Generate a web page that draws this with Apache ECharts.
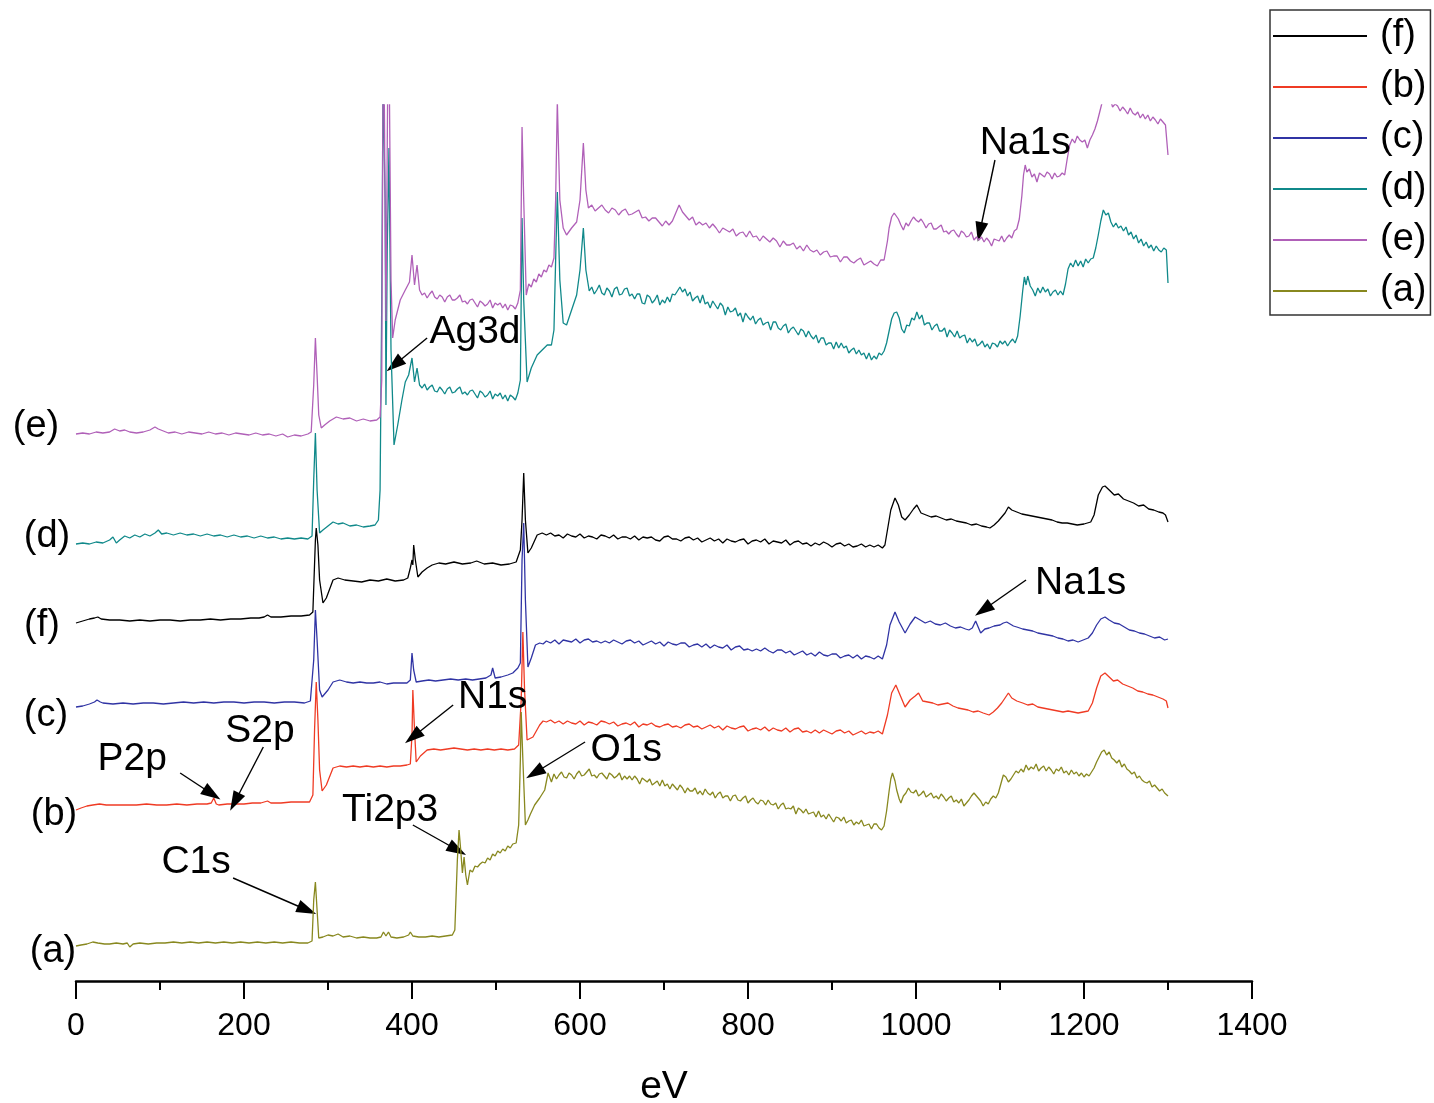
<!doctype html>
<html>
<head>
  <meta charset="UTF-8" />
  <title>XPS survey</title>
  <script src="https://cdn.jsdelivr.net/npm/echarts@6/dist/echarts.min.js"></script>
  <style>
    html, body { margin: 0; padding: 0; background: #fff; }
    #chart { width: 1434px; height: 1103px; }
  </style>
</head>
<body>
  <div id="chart"></div>
  <script>
    // binding energy (eV) vs. offset intensity (a.u.)
    const serF = [[0,358],[8,360],[16,362],[22,363],[26,364],[30,362],[40,361],[52,361],[64,360],[76,361],[88,360],[100,361],[112,361],[124,360],[136,361],[148,361],[160,362],[172,361],[184,362],[196,362],[208,363],[218,363],[224,364],[228,366],[232,364],[244,364],[256,365],[268,365],[278,366],[282,369],[285,441],[286,453],[288,436],[290,401],[294,378],[298,383],[306,401],[312,403],[320,401],[330,400],[340,399],[350,401],[360,400],[370,402],[380,400],[390,401],[395,403],[398,413],[400,421],[401,416],[402,436],[404,421],[407,404],[412,409],[418,413],[424,416],[432,418],[440,417],[450,419],[460,417],[470,418],[477,420],[486,417],[496,418],[506,416],[516,417],[524,419],[529,431],[531,461],[533,508],[535,461],[538,428],[542,433],[549,446],[555,448],
      [560,446],[565,448],[570,445],[575,446],[580,443],[585,447],[590,445],[595,444],[600,447],[605,443],[610,445],[615,444],[620,442],[625,446],[630,445],[635,443],[640,446],[645,442],[650,444],[655,444],[660,442],[665,445],[670,441],[675,444],[680,443],[685,444],[690,441],[695,440],[700,444],[705,445],[710,442],[715,442],[720,440],[725,443],[730,444],[735,441],[740,443],[745,439],[750,441],[755,443],[760,440],[765,442],[770,438],[775,442],[780,440],[785,439],[790,441],[795,442],[800,437],[805,440],[810,441],[815,439],[820,442],[825,437],[830,440],[835,439],[840,438],[845,441],[850,436],[855,439],[860,440],[865,437],[870,438],[875,435],[880,438],[885,436],[890,439],[895,437],[900,434],[905,437],[910,438],[915,435],[920,437],[925,434],[930,435],[935,437],[940,434],[945,436],[950,434],[955,436],[960,433],
      [963,436],[966,451],[970,471],[975,483],[979,476],[983,464],[987,461],[992,466],[997,472],[1001,476],[1006,468],[1012,466],[1018,464],[1024,465],[1030,463],[1036,461],[1042,462],[1048,460],[1054,459],[1060,458],[1066,456],[1072,457],[1078,455],[1084,454],[1088,453],[1093,456],[1098,460],[1102,464],[1106,468],[1110,474],[1114,471],[1120,469],[1126,467],[1132,466],[1138,465],[1144,464],[1150,463],[1156,462],[1162,461],[1168,459],[1174,458],[1180,458],[1186,457],[1192,456],[1200,457],[1208,459],[1212,466],[1217,486],[1222,494],[1225,495],[1230,491],[1236,486],[1241,487],[1247,482],[1253,480],[1259,478],[1265,475],[1271,476],[1277,472],[1283,471],[1289,469],[1294,468],[1297,466],[1300,459]];

    const serB = [[0,171],[6,173],[13,175],[20,176],[28,177],[36,176],[48,176],[60,176],[72,176],[84,177],[96,176],[108,176],[120,177],[132,176],[144,177],[156,177],[161,178],[164,183],[167,177],[170,176],[180,177],[190,177],[200,177],[210,178],[220,178],[228,180],[232,178],[244,178],[256,179],[268,179],[278,179],[282,186],[284,251],[286,299],[288,261],[290,211],[293,190],[298,196],[306,213],[314,215],[322,214],[330,215],[338,214],[346,215],[354,214],[362,215],[370,214],[378,215],[386,215],[394,216],[398,217],[400,246],[401,291],[403,251],[405,219],[410,225],[418,231],[426,232],[434,231],[442,232],[450,233],[458,232],[466,231],[474,232],[482,231],[490,232],[498,231],[506,232],[514,231],[522,232],[527,236],[530,281],[532,349],[534,291],[537,241],[544,244],[552,256],[556,260],
      [560,259],[565,261],[570,258],[575,260],[580,257],[585,260],[590,258],[595,257],[600,260],[605,256],[610,259],[615,258],[620,256],[625,260],[630,259],[635,257],[640,259],[645,255],[650,257],[655,258],[660,256],[665,259],[670,254],[675,257],[680,256],[685,258],[690,255],[695,254],[700,256],[705,257],[710,254],[715,255],[720,253],[725,256],[730,257],[735,254],[740,255],[745,252],[750,254],[755,256],[760,253],[765,255],[770,251],[775,255],[780,253],[785,252],[790,254],[795,255],[800,250],[805,252],[810,253],[815,251],[820,254],[825,250],[830,253],[835,251],[840,250],[845,253],[850,249],[855,252],[860,253],[865,249],[870,250],[875,248],[880,251],[885,248],[890,251],[895,249],[900,247],[905,250],[910,251],[915,248],[920,250],[925,246],[930,248],[935,250],[940,247],[945,249],[950,248],[955,250],[960,247],
      [962,247],[966,266],[971,288],[976,296],[981,286],[987,274],[993,281],[999,285],[1003,288],[1008,280],[1014,279],[1020,278],[1026,276],[1032,277],[1038,278],[1044,275],[1050,273],[1056,272],[1062,271],[1068,269],[1074,270],[1080,268],[1087,266],[1092,269],[1097,273],[1102,278],[1106,283],[1110,288],[1114,283],[1120,280],[1127,278],[1133,276],[1139,277],[1145,274],[1151,273],[1157,272],[1163,271],[1169,270],[1175,269],[1181,270],[1187,269],[1193,268],[1199,269],[1205,270],[1210,278],[1215,293],[1220,305],[1225,308],[1230,304],[1235,300],[1240,301],[1246,297],[1252,295],[1258,293],[1264,290],[1270,289],[1276,287],[1282,286],[1288,284],[1294,282],[1298,280],[1300,273]];

    const serC = [[0,274],[8,275],[16,277],[22,279],[25,281],[29,279],[32,278],[44,277],[56,278],[68,277],[80,278],[92,278],[104,277],[116,278],[128,279],[140,278],[152,279],[164,278],[176,279],[188,279],[200,278],[212,279],[224,279],[236,278],[248,279],[260,279],[272,278],[279,280],[283,321],[285,371],[287,341],[290,291],[293,284],[300,291],[306,299],[314,301],[322,299],[330,298],[338,299],[346,298],[354,298],[362,299],[370,297],[378,298],[386,298],[394,298],[398,301],[400,328],[402,311],[405,299],[412,300],[420,301],[428,300],[437,301],[446,302],[455,301],[464,302],[472,301],[480,302],[488,303],[494,306],[496,313],[499,303],[506,304],[514,306],[520,308],[526,313],[529,318],[531,421],[533,458],[535,381],[538,314],[542,323],[547,336],[552,338],[556,337],
      [560,340],[565,338],[570,341],[575,337],[580,341],[585,340],[590,339],[595,342],[600,338],[605,341],[610,342],[615,339],[620,340],[625,338],[630,340],[635,338],[640,341],[645,339],[650,337],[655,340],[660,341],[665,338],[670,340],[675,336],[680,338],[685,340],[690,337],[695,339],[700,335],[705,339],[710,337],[715,336],[720,338],[725,338],[730,334],[735,336],[740,337],[745,334],[750,337],[755,333],[760,336],[765,334],[770,333],[775,336],[780,331],[785,334],[790,335],[795,331],[800,332],[805,330],[810,332],[815,330],[820,333],[825,330],[830,328],[835,331],[840,331],[845,328],[850,330],[855,326],[860,328],[865,330],[870,326],[875,328],[880,325],[885,329],[890,326],[895,325],[900,327],[905,327],[910,323],[915,325],[920,326],[925,323],[930,326],[935,322],[940,325],[945,324],[950,322],[955,325],[960,322],
      [962,324],[965,336],[969,356],[975,369],[980,359],[987,348],[993,357],[999,364],[1005,361],[1011,358],[1017,360],[1023,357],[1029,356],[1035,358],[1041,355],[1047,353],[1053,354],[1059,352],[1063,351],[1067,353],[1071,360],[1074,354],[1077,348],[1082,352],[1087,353],[1093,355],[1100,356],[1104,358],[1108,359],[1112,357],[1116,355],[1120,354],[1127,352],[1133,351],[1139,350],[1145,348],[1151,347],[1157,346],[1163,345],[1169,343],[1175,342],[1181,340],[1187,341],[1193,339],[1199,341],[1205,343],[1210,348],[1215,356],[1220,362],[1225,364],[1230,361],[1236,358],[1242,357],[1248,354],[1254,351],[1260,350],[1266,348],[1272,347],[1278,345],[1284,343],[1290,344],[1296,341],[1300,342]];

    const serD = [[0,437],[8,438],[16,437],[24,439],[32,438],[40,441],[44,444],[48,438],[52,441],[58,445],[64,443],[70,446],[76,444],[82,447],[88,445],[94,448],[98,451],[102,447],[108,448],[116,446],[124,448],[132,446],[140,447],[148,445],[156,447],[164,445],[172,446],[180,444],[188,446],[196,444],[204,445],[212,443],[220,445],[228,443],[236,444],[244,442],[252,443],[260,442],[268,443],[276,442],[281,445],[283,501],[285,548],[287,491],[290,448],[294,451],[300,455],[306,459],[312,457],[318,458],[326,455],[334,456],[342,454],[350,455],[356,456],[360,461],[362,491],[364,681],[365.5,900],[368,781],[369,576],[370.5,731],[372.6,833],[375,631],[378.6,536],[383,556],[388,581],[392,599],[396,606],[400,623],[403,599],[406,613],[409,596],
      [412,593],[415,597],[418,591],[421,594],[424,596],[427,590],[430,589],[433,594],[436,591],[439,587],[442,592],[445,594],[448,588],[451,589],[454,592],[457,594],[460,587],[463,589],[466,586],[469,590],[472,591],[475,587],[478,583],[481,590],[484,588],[487,584],[490,586],[493,590],[496,582],[499,587],[502,585],[505,588],[508,582],[511,586],[514,580],[517,586],[520,584],[523,581],[526,588],
      [529,601],[531,763],[533,681],[537,599],[542,613],[549,626],[555,631],[561,636],[566,636],[569,651],[571,721],[573,789],[576,701],[580,658],[584,656],[590,671],[596,686],[600,711],[604,753],[607,711],
      [611,690],[614,694],[617,687],[620,691],[623,696],[626,688],[629,686],[632,693],[635,690],[638,684],[641,692],[644,694],[647,686],[650,687],[653,692],[656,693],[659,685],[662,687],[665,682],[668,687],[671,687],[674,678],[677,677],[680,686],[683,684],[686,678],[689,681],[692,686],[695,676],[698,681],[701,678],[704,684],[707,679],[710,687],[713,686],[716,690],[719,694],[722,689],[725,692],[728,685],[731,689],[734,680],[737,683],[740,685],[743,678],[746,686],[749,677],[752,679],[755,673],[758,680],[761,676],[764,672],[767,678],[770,675],[773,666],[776,674],[779,669],[782,670],[785,673],[788,665],[791,668],[794,659],[797,668],[800,664],[803,661],[806,665],[809,657],[812,661],[815,663],[818,656],[821,658],[824,659],[827,651],[830,659],[833,659],[836,653],[839,651],[842,655],[845,657],[848,648],[851,652],[854,654],[857,650],[860,646],[863,652],[866,650],[869,644],[872,650],[875,645],[878,642],[881,646],[884,638],[887,643],[890,643],[893,636],[896,638],[899,638],[902,632],[905,639],[908,633],[911,638],[914,633],[917,635],[920,628],[923,631],[926,633],[929,627],[932,631],[935,626],[938,628],[941,622],[944,628],[947,621],[950,625],[953,622],[956,628],[959,626],[962,630],
      [965,638],[968,650],[971,662],[974,668],[977,669],[980,663],[983,652],[986,648],[989,656],[992,655],[995,663],[998,661],[1001,669],[1004,662],[1007,666],[1010,656],[1013,658],[1016,658],[1019,651],[1022,655],[1025,657],[1028,650],[1031,650],[1034,653],[1037,644],[1040,651],[1043,648],[1046,644],[1049,650],[1052,643],[1055,645],[1058,646],[1061,638],[1064,643],[1067,639],[1070,642],[1073,635],[1076,637],[1079,640],[1082,634],[1085,637],[1088,632],[1091,638],[1094,637],[1097,634],[1100,640],[1103,637],[1106,640],[1109,635],[1112,639],[1115,642],[1118,638],[1121,645],[1124,665],[1127,690],[1129,704],[1131,696],[1133,705],[1136,695],[1139,691],[1142,685],[1145,693],[1148,688],[1151,694],[1154,689],[1157,692],[1160,685],[1163,689],[1166,691],[1169,686],[1172,690],[1175,686],[1178,697],[1181,712],[1184,718],[1187,714],[1190,721],[1193,715],[1196,720],[1199,714],[1202,722],[1205,718],[1208,722],[1211,723],[1214,733],[1217,746],[1220,760],[1223,771],[1226,766],[1229,768],[1232,759],[1235,754],[1238,758],[1241,753],[1244,755],[1247,750],[1250,754],[1253,746],[1256,749],[1259,742],[1262,746],[1265,738],[1268,742],[1271,735],[1274,739],[1277,733],[1280,736],[1283,730],[1286,735],[1289,731],[1292,729],[1295,733],[1298,731],[1300,698]];

    const serE = [[0,547],[8,548],[16,547],[24,549],[32,548],[40,549],[46,552],[52,550],[58,551],[64,549],[72,548],[80,549],[88,551],[94,554],[98,552],[104,550],[110,548],[118,549],[126,547],[134,549],[142,548],[150,547],[158,549],[166,547],[174,548],[182,546],[190,548],[198,547],[206,546],[214,548],[222,546],[230,547],[238,545],[246,547],[252,544],[260,546],[268,545],[276,547],[280,549],[283,596],[285,643],[287,606],[289,566],[292,553],[296,556],[302,560],[310,564],[318,562],[326,563],[334,560],[342,562],[350,560],[358,561],[362,564],[364,601],[366,1000],[369,660],[372,1000],[375,701],[377,643],[380,661],[386,681],[392,691],[397,699],[400,726],[403,696],[406,716],[409,691],
      [412,686],[415,688],[418,683],[421,687],[424,690],[427,684],[430,682],[433,686],[436,684],[439,679],[442,684],[445,686],[448,681],[451,681],[454,683],[457,686],[460,679],[463,680],[466,677],[469,681],[472,682],[475,678],[478,674],[481,680],[484,678],[487,675],[490,677],[493,681],[496,673],[499,678],[502,676],[505,678],[508,673],[511,677],[514,671],[517,676],[520,675],[523,672],[526,678],
      [529,691],[531,854],[533,781],[536,686],[539,697],[542,694],[545,702],[548,699],[551,707],[554,704],[557,711],[560,709],[563,716],[566,714],[569,723],[571,781],[573,880],[576,781],[580,753],[584,746],[590,753],[596,759],[600,781],[604,838],[607,791],
      [610,773],[614,776],[618,770],[622,773],[626,776],[630,771],[634,768],[638,773],[642,771],[646,766],[650,770],[654,772],[658,766],[662,767],[666,769],[670,771],[674,763],[678,764],[682,760],[686,763],[690,763],[694,759],[698,755],[702,760],[706,756],[710,760],[714,768],[718,776],[722,769],[726,765],[730,761],[734,764],[738,756],[742,759],[746,756],[750,758],[754,753],[758,757],[762,753],[766,748],[770,753],[774,751],[778,749],[782,752],[786,745],[790,748],[794,749],[798,744],[802,750],[806,744],[810,745],[814,740],[818,745],[822,742],[826,739],[830,743],[834,740],[838,734],[842,740],[846,736],[850,736],[854,738],[858,732],[862,735],[866,730],[870,736],[874,731],[878,729],[882,731],[886,726],[890,729],[894,730],[898,724],[902,725],[906,725],[910,719],[914,724],[918,724],[922,720],[926,718],[930,721],[934,723],[938,716],[942,718],[946,720],[950,717],[954,715],[958,721],[962,721],
      [966,740],[968,753],[971,764],[974,768],[976,769],[979,762],[982,756],[985,751],[988,758],[991,755],[994,760],[997,764],[1000,761],[1003,759],[1006,762],[1009,758],[1012,753],[1015,757],[1018,758],[1021,752],[1024,752],[1027,754],[1030,756],[1033,749],[1036,750],[1039,747],[1042,750],[1045,751],[1048,747],[1051,744],[1054,750],[1057,748],[1060,744],[1063,745],[1066,749],[1069,741],[1072,744],[1075,741],[1078,744],[1081,739],[1084,743],[1087,740],[1090,735],[1093,742],[1096,741],[1099,740],[1102,745],[1105,739],[1108,743],[1111,746],[1114,743],[1117,750],[1120,752],[1123,762],[1126,785],[1128,806],[1130,816],[1132,809],[1135,812],[1138,804],[1141,807],[1144,799],[1147,808],[1150,806],[1153,804],[1156,809],[1159,807],[1162,802],[1165,808],[1168,804],[1171,805],[1174,808],[1177,806],[1180,822],[1183,836],[1186,842],[1189,838],[1192,845],[1195,841],[1198,839],[1201,841],[1204,833],[1207,841],[1210,846],[1213,852],[1216,860],[1219,870],[1222,880],[1225,890],[1230,886],[1234,874],[1237,877],[1240,875],[1243,870],[1246,874],[1249,871],[1252,867],[1255,873],[1258,868],[1261,866],[1264,869],[1267,863],[1270,867],[1273,862],[1276,866],[1279,860],[1282,864],[1285,861],[1288,857],[1291,862],[1294,859],[1297,856],[1299,858],[1300,826]];

    const serA = [[0,35],[6,36],[13,37],[20,39],[26,38],[34,37],[40,37],[48,38],[56,37],[61,38],[64,34],[68,37],[76,38],[86,37],[96,38],[106,38],[116,39],[126,38],[136,39],[146,38],[156,39],[166,38],[176,39],[186,38],[196,39],[206,38],[216,39],[226,38],[236,39],[246,38],[256,39],[266,38],[276,38],[281,40],[283,81],[285,99],[287,71],[289,43],[294,44],[300,46],[306,45],[312,47],[318,44],[326,45],[334,43],[342,44],[350,43],[358,43],[363,44],[366,49],[369,45],[372,49],[375,44],[382,43],[390,44],[396,46],[398,49],[401,45],[408,44],[416,44],[424,45],[432,44],[440,45],[448,46],[451,51],[454,121],[456,151],[458,131],[460,108],[462,124],[464,106],
      [466,96],[469,111],[472,109],[475,115],[478,114],[481,117],[484,119],[487,118],[490,123],[493,121],[496,127],[499,125],[502,130],[505,128],[508,132],[511,130],[514,135],[517,133],[520,137],[524,138],
      [527,156],[529,221],[530,269],[532,221],[535,156],[538,161],[541,167],[546,176],[552,183],[558,191],[562,208],
      [566,199],[569,207],[572,202],[575,206],[578,209],[581,204],[584,203],[587,208],[590,206],[593,202],[596,207],[599,210],[602,205],[605,206],[608,209],[611,212],[614,205],[617,206],[620,203],[623,207],[626,208],[629,205],[632,202],[635,208],[638,206],[641,203],[644,205],[647,208],[650,201],[653,205],[656,202],[659,205],[662,201],[665,205],[668,202],[671,197],[674,203],[677,201],[680,199],[683,202],[686,196],[689,198],[692,200],[695,195],[698,201],[701,195],[704,197],[707,192],[710,197],[713,194],[716,191],[719,196],[722,193],[725,188],[728,193],[731,190],[734,190],[737,193],[740,187],[743,190],[746,186],[749,192],[752,188],[755,186],[758,189],[761,183],[764,187],[767,189],[770,183],[773,185],[776,185],[779,180],[782,185],[785,186],[788,181],[791,180],[794,183],[797,185],[800,178],[803,181],[806,183],[809,179],[812,177],[815,181],[818,180],[821,176],[824,181],[827,177],[830,176],[833,178],[836,172],[839,176],[842,178],[845,172],[848,173],[851,172],[854,175],[857,167],[860,173],[863,171],[866,168],[869,172],[872,167],[875,168],[878,169],[881,164],[884,170],[887,164],[890,166],[893,162],[896,167],[899,163],[902,159],[905,164],[908,163],[911,160],[914,164],[917,158],[920,160],[923,161],[926,156],[929,159],[932,157],[935,161],[938,155],[941,156],[944,157],[947,152],[950,157],[953,157],[956,153],[959,151],[962,155],
      [965,170],[968,190],[970,202],[972,208],[975,200],[977,191],[980,182],[982,178],[985,185],[988,188],[991,193],[994,189],[997,188],[1000,191],[1003,185],[1006,187],[1009,190],[1012,184],[1015,186],[1018,188],[1021,183],[1024,185],[1027,182],[1030,187],[1033,184],[1036,180],[1039,183],[1042,185],[1045,179],[1048,181],[1051,178],[1054,182],[1057,175],[1060,178],[1063,181],[1066,185],[1069,188],[1071,190],[1074,183],[1077,180],[1080,175],[1083,179],[1086,177],[1089,182],[1092,185],[1095,183],[1098,188],[1101,197],[1104,206],[1107,204],[1110,199],[1113,202],[1116,206],[1119,210],[1122,208],[1125,212],[1128,209],[1131,216],[1134,211],[1137,214],[1140,212],[1143,217],[1146,210],[1149,213],[1152,215],[1155,210],[1158,214],[1161,211],[1164,207],[1167,212],[1170,210],[1173,214],[1176,208],[1179,210],[1182,206],[1185,211],[1188,207],[1191,209],[1194,205],[1197,208],[1200,204],[1203,207],[1206,205],[1209,209],[1212,213],[1215,219],[1218,224],[1221,229],[1224,231],[1227,226],[1230,229],[1233,223],[1236,221],[1239,218],[1242,221],[1245,214],[1248,217],[1251,212],[1254,210],[1257,207],[1260,209],[1263,203],[1266,205],[1269,201],[1272,199],[1275,198],[1278,200],[1281,194],[1284,196],[1287,193],[1290,190],[1293,192],[1296,188],[1298,189],[1300,185]];

    const seriesNames = ['(f)', '(b)', '(c)', '(d)', '(e)', '(a)'];
    const seriesData = [serF, serB, serC, serD, serE, serA];
    const seriesColors = ['#000000', '#ef3b24', '#3034a4', '#10898a', '#b060b8', '#88881f'];
    const xTicks = [0, 200, 400, 600, 800, 1000, 1200, 1400];

    // peak annotations: label, text centre, arrow start, arrow tip (eV, a.u.)
    const peakLabels = ['Ag3d', 'Na1s', 'Na1s', 'N1s', 'S2p', 'P2p', 'Ti2p3', 'C1s', 'O1s'];
    const peakTextAt = [[475, 649], [1130, 838], [1196, 398], [496, 284], [219, 250], [67, 222], [374, 171], [143, 119], [655, 231]];
    const arrowFrom = [[418, 643], [1094, 821], [1131, 401], [449, 276], [223, 234], [124, 208], [401, 156], [187, 103], [606, 239]];
    const arrowTo = [[379, 616], [1076, 749], [1080, 371], [401, 244], [189, 179], [162, 187], [454, 131], [275, 71], [546, 208]];

    // curve tags on the left margin
    const sideTags = ['(e)', '(d)', '(f)', '(c)', '(b)', '(a)'];
    const sideTagPos = [[36, 427], [47, 537], [42, 626], [46, 716], [54, 815], [53, 952]];

    const FONT = '"Liberation Sans", Arial, Helvetica, sans-serif';
    const chart = echarts.init(document.getElementById('chart'), null, { renderer: 'canvas' });

    const series = seriesNames.map((n, i) => ({
      name: n,
      type: 'line',
      data: seriesData[i],
      symbol: 'none',
      showSymbol: false,
      clip: true,
      color: seriesColors[i],
      lineStyle: { color: seriesColors[i], width: 1.3 },
      z: 2 + i,
    }));

    series.push({
      name: 'arrows',
      type: 'line',
      data: [],
      symbol: 'none',
      z: 20,
      markLine: {
        silent: true,
        animation: false,
        symbol: ['none', 'triangle'],
        symbolSize: [13, 20],
        label: { show: false },
        lineStyle: { color: '#000', width: 1.4, type: 'solid' },
        data: arrowFrom.map((f, i) => [{ coord: f }, { coord: arrowTo[i] }]),
      },
    });

    chart.setOption({
      animation: false,
      backgroundColor: '#fff',
      grid: { left: 76, right: 182, top: 105, bottom: 122, containLabel: false, outerBoundsMode: 'none' },
      legend: {
        data: seriesNames,
        orient: 'vertical',
        left: 1270,
        top: 10,
        padding: [4, 4, 2, 3],
        itemGap: 7,
        icon: 'rect',
        itemWidth: 94,
        itemHeight: 2,
        borderColor: '#333',
        borderWidth: 1.5,
        textStyle: { fontFamily: FONT, fontSize: 38, color: '#000', lineHeight: 44, padding: [0, 0, 0, 8] },
      },
      xAxis: {
        type: 'value',
        min: 0,
        max: 1400,
        interval: 200,
        name: 'eV',
        nameLocation: 'middle',
        nameGap: 87,
        nameTextStyle: { fontFamily: FONT, fontSize: 39, color: '#000' },
        axisLine: { show: true, onZero: false, lineStyle: { color: '#000', width: 2.5 } },
        axisTick: { show: true, length: 18, lineStyle: { color: '#000', width: 2 } },
        minorTick: { show: true, splitNumber: 2, length: 9, lineStyle: { color: '#000', width: 2 } },
        splitLine: { show: false },
        axisLabel: {
          fontFamily: FONT, fontSize: 32, color: '#000', margin: 29,
          formatter: (v) => (xTicks.indexOf(v) >= 0 ? String(v) : ''),
        },
      },
      yAxis: {
        type: 'value',
        min: 0,
        max: 876,
        show: false,
        splitLine: { show: false },
      },
      series: series,
    });

    // text labels placed through the chart's own coordinate conversion
    const texts = peakLabels.map((t, i) => {
      const p = chart.convertToPixel({ gridIndex: 0 }, peakTextAt[i]);
      return {
        type: 'text', x: p[0], y: p[1], z: 30, silent: true,
        style: { text: t, fontFamily: FONT, fontSize: 39, fill: '#000', align: 'center', verticalAlign: 'middle' },
      };
    });
    sideTags.forEach((t, i) => {
      texts.push({
        type: 'text', x: sideTagPos[i][0], y: sideTagPos[i][1], z: 30, silent: true,
        style: { text: t, fontFamily: FONT, fontSize: 38, fill: '#000', align: 'center', verticalAlign: 'middle' },
      });
    });
    chart.setOption({ graphic: texts });
  </script>
</body>
</html>
